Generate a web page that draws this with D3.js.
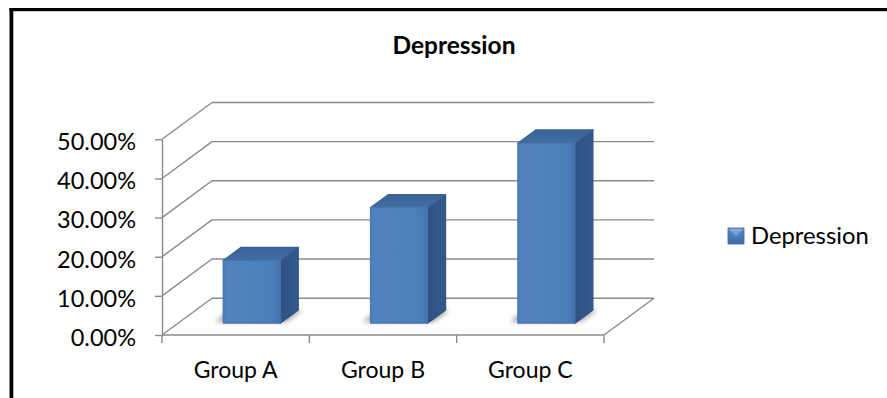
<!DOCTYPE html>
<html>
<head>
<meta charset="utf-8">
<script src="https://cdn.jsdelivr.net/npm/d3@7"></script>
<style>
  html, body { margin: 0; padding: 0; background: #ffffff; }
  svg { display: block; }
  text { font-family: Lato, "Open Sans", sans-serif; fill: #000; }
</style>
</head>
<body>
<svg id="chart" width="887" height="398"></svg>
<script>
// ---- data ----
const chartTitle = "Depression";
const seriesName = "Depression";
const categories = ["Group A", "Group B", "Group C"];
const values = [0.16, 0.295, 0.46];
const yTicks = [0, 0.1, 0.2, 0.3, 0.4, 0.5];

// ---- layout ----
const W = 887, H = 398;
const plot = { left: 162, right: 604, bottom: 335, top: 139.3 };
const DEPTH = { dx: 50, dy: -36.8 };      // offset from front plane to back wall
const barDepth = [0.32, 0.68];            // bar extent along the depth axis
const barFrac = 0.388;                    // bar width as share of a category band
const gridColor = "#8a8a8a";

const svg = d3.select("#chart");

const x = d3.scaleBand().domain(categories).range([plot.left, plot.right]).padding(0);
const y = d3.scaleLinear().domain([0, 0.5]).range([plot.bottom, plot.top]);

// project (x pixel, value, depth 0..1) onto the screen
const P = (px, v, z) => [px + z * DEPTH.dx, y(v) + z * DEPTH.dy];
const poly = pts => "M" + pts.map(p => p.join(",")).join("L") + "Z";

const defs = svg.append("defs");
const shadowBlur = defs.append("filter").attr("id", "shadowBlur")
  .attr("x", "-30%").attr("y", "-100%").attr("width", "160%").attr("height", "300%");
shadowBlur.append("feGaussianBlur").attr("stdDeviation", 2.6);

const frontGrad = defs.append("linearGradient").attr("id", "frontGrad")
  .attr("x1", 0).attr("x2", 1).attr("y1", 0).attr("y2", 0);
frontGrad.append("stop").attr("offset", "0%").attr("stop-color", "#4a7cb8");
frontGrad.append("stop").attr("offset", "8%").attr("stop-color", "#5083c0");
frontGrad.append("stop").attr("offset", "85%").attr("stop-color", "#4b7fbc");
frontGrad.append("stop").attr("offset", "100%").attr("stop-color", "#4274ae");

const topGrad = defs.append("linearGradient").attr("id", "topGrad")
  .attr("x1", 0).attr("x2", 0).attr("y1", 1).attr("y2", 0);
topGrad.append("stop").attr("offset", "0%").attr("stop-color", "#426ea3");
topGrad.append("stop").attr("offset", "100%").attr("stop-color", "#3a6395");

const sideGrad = defs.append("linearGradient").attr("id", "sideGrad")
  .attr("x1", 0).attr("x2", 1).attr("y1", 0).attr("y2", 0);
sideGrad.append("stop").attr("offset", "0%").attr("stop-color", "#2f5283");
sideGrad.append("stop").attr("offset", "100%").attr("stop-color", "#34598a");

// ---- outer frame (top and left edges) ----
svg.append("rect").attr("x", 9.5).attr("y", 8).attr("width", W - 9.5).attr("height", 3.2).attr("fill", "#000");
svg.append("rect").attr("x", 9.5).attr("y", 8).attr("width", 3.8).attr("height", H - 8).attr("fill", "#000");

// ---- title ----
svg.append("text")
  .attr("x", 454).attr("y", 54)
  .attr("text-anchor", "middle")
  .style("font-weight", "bold").style("font-size", "24.5px")
  .text(chartTitle);

// ---- 3D walls and gridlines ----
const grid = svg.append("g").attr("fill", "none").attr("stroke", gridColor).attr("stroke-width", 1.4);
// left wall diagonals
grid.selectAll(".diag").data(yTicks).join("line")
  .attr("x1", d => P(plot.left, d, 0)[0]).attr("y1", d => P(plot.left, d, 0)[1])
  .attr("x2", d => P(plot.left, d, 1)[0]).attr("y2", d => P(plot.left, d, 1)[1]);
// back wall gridlines
grid.selectAll(".back").data(yTicks).join("line")
  .attr("x1", d => P(plot.left, d, 1)[0]).attr("y1", d => P(plot.left, d, 1)[1])
  .attr("x2", d => P(plot.right, d, 1)[0]).attr("y2", d => P(plot.right, d, 1)[1]);
// floor: right edge
grid.append("line")
  .attr("x1", P(plot.right, 0, 0)[0]).attr("y1", P(plot.right, 0, 0)[1])
  .attr("x2", P(plot.right, 0, 1)[0]).attr("y2", P(plot.right, 0, 1)[1]);

// ---- bars ----
const bars = svg.append("g");
const barData = categories.map((c, i) => {
  const bw = x.bandwidth() * barFrac;
  const x0 = x(c) + (x.bandwidth() - bw) / 2;
  return { c, v: values[i], x0, x1: x0 + bw };
});

// soft floor shadows
bars.selectAll(".shadow").data(barData).join("path")
  .attr("d", d => {
    const [z0, z1] = barDepth;
    const a = P(d.x0 - 10, 0, z0 + 0.04), b = P(d.x1 + 4, 0, z0 + 0.04);
    const c2 = P(d.x1 + 4, 0, z1), e = P(d.x0 - 10, 0, z1);
    return poly([a, b, c2, e]);
  })
  .attr("fill", "#000").attr("opacity", 0.38)
  .attr("filter", "url(#shadowBlur)");

const barG = bars.selectAll(".bar").data(barData).join("g");
const [z0, z1] = barDepth;
barG.append("path")  // side face
  .attr("d", d => poly([P(d.x1, 0, z0), P(d.x1, 0, z1), P(d.x1, d.v, z1), P(d.x1, d.v, z0)]))
  .attr("fill", "url(#sideGrad)").attr("stroke", "#30537f").attr("stroke-width", 1.2).attr("stroke-linejoin", "round");
barG.append("path")  // top face
  .attr("d", d => poly([P(d.x0, d.v, z0), P(d.x1, d.v, z0), P(d.x1, d.v, z1), P(d.x0, d.v, z1)]))
  .attr("fill", "url(#topGrad)").attr("stroke", "#3a6294").attr("stroke-width", 1.2).attr("stroke-linejoin", "round");
barG.append("path")  // front face
  .attr("d", d => poly([P(d.x0, 0, z0), P(d.x1, 0, z0), P(d.x1, d.v, z0), P(d.x0, d.v, z0)]))
  .attr("fill", "url(#frontGrad)").attr("stroke", "#4677b2").attr("stroke-width", 1).attr("stroke-linejoin", "round");

// ---- front floor edge ----
svg.append("line")
  .attr("x1", plot.left).attr("y1", plot.bottom).attr("x2", plot.right).attr("y2", plot.bottom)
  .attr("stroke", gridColor).attr("stroke-width", 1.4);

// ---- value axis ----
const yAxis = svg.append("g")
  .attr("transform", `translate(${plot.left},0)`)
  .call(d3.axisLeft(y).tickValues(yTicks).tickFormat(d3.format(".2%")).tickSize(7).tickSizeOuter(0).tickPadding(19));
yAxis.select(".domain").attr("stroke", gridColor).attr("stroke-width", 1.4);
yAxis.selectAll(".tick line").attr("stroke", gridColor).attr("stroke-width", 1.4);
yAxis.selectAll(".tick text").attr("dy", "0.44em").style("font-size", "23.5px").style("font-family", "Lato, sans-serif").attr("fill", "#000");

// ---- category axis ----
const boundaries = categories.map(c => x(c)).concat([plot.right]);
svg.append("g").selectAll("line").data(boundaries).join("line")
  .attr("x1", d => d).attr("x2", d => d)
  .attr("y1", plot.bottom).attr("y2", plot.bottom + 8)
  .attr("stroke", gridColor).attr("stroke-width", 1.4);

const xAxis = svg.append("g")
  .attr("transform", `translate(0,${plot.bottom})`)
  .call(d3.axisBottom(x).tickSize(0).tickSizeOuter(0));
xAxis.select(".domain").remove();
xAxis.selectAll(".tick text").attr("y", 43).attr("dy", 0)
  .style("font-size", "23px").style("font-family", "Lato, sans-serif").attr("fill", "#000");

// ---- legend ----
const legend = svg.append("g").attr("transform", "translate(728,228)");
const lgGrad = defs.append("linearGradient").attr("id", "lgGrad")
  .attr("x1", 0).attr("x2", 0).attr("y1", 0).attr("y2", 1);
lgGrad.append("stop").attr("offset", "0%").attr("stop-color", "#6d9bd1");
lgGrad.append("stop").attr("offset", "30%").attr("stop-color", "#4f82bf");
lgGrad.append("stop").attr("offset", "100%").attr("stop-color", "#3f6ea8");
legend.append("rect").attr("width", 16).attr("height", 16).attr("fill", "url(#lgGrad)")
  .attr("stroke", "#3a659a").attr("stroke-width", 0.8);
legend.append("path").attr("d", "M1,1L15,1L8,8Z").attr("fill", "#8db3e0").attr("opacity", 0.7);
legend.append("text").attr("x", 23).attr("y", 16)
  .style("font-size", "23.8px").text(seriesName);
</script>
</body>
</html>
